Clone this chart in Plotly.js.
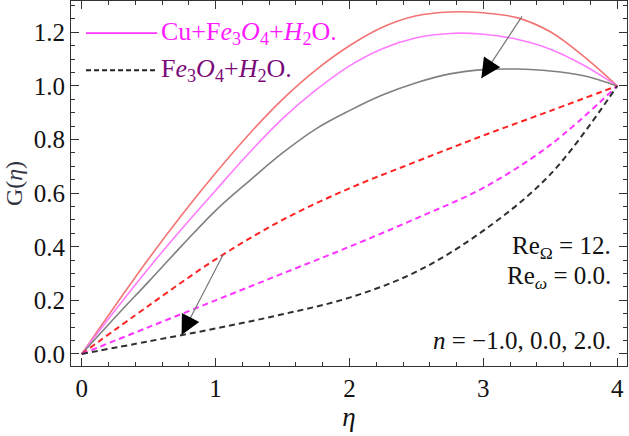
<!DOCTYPE html>
<html>
<head>
<meta charset="utf-8">
<script src="https://cdn.plot.ly/plotly-3.0.1.min.js"></script>
<style>
  html, body { margin: 0; padding: 0; background: #fff; }
  #plotlyDiv { width: 629px; height: 436px; }
</style>
</head>
<body>
<div id="plotlyDiv"></div>
<script>
// eta grids (uniform steps so the splines stay smooth)
const etaSolid = [0, 0.25, 0.5, 0.75, 1, 1.25, 1.5, 1.75, 2, 2.25, 2.5, 2.75, 3, 3.25, 3.5, 3.75, 4];
const etaDashed = [0, 0.5, 1, 1.5, 2, 2.5, 3, 3.5, 4];

// Cu+Fe3O4+H2O (solid), n = -1, 0, 2
const cuNm1 = [0, 0.18, 0.355, 0.52, 0.675, 0.82, 0.95, 1.06, 1.15, 1.22, 1.262, 1.276, 1.273, 1.255, 1.202, 1.11, 1.0];
const cuN0 = [0, 0.163, 0.32, 0.468, 0.61, 0.75, 0.878, 0.985, 1.075, 1.14, 1.18, 1.196, 1.193, 1.174, 1.137, 1.077, 1.0];
const cuN2 = [0, 0.137, 0.27, 0.405, 0.535, 0.645, 0.75, 0.84, 0.908, 0.967, 1.012, 1.045, 1.061, 1.063, 1.056, 1.038, 1.0];

// Fe3O4+H2O (dashed), n = -1, 0, 2
const feNm1 = [0, 0.18, 0.353, 0.50, 0.618, 0.718, 0.815, 0.907, 1.0];
const feN0 = [0, 0.10, 0.20, 0.30, 0.40, 0.506, 0.62, 0.78, 1.0];
const feN2 = [0, 0.047, 0.095, 0.148, 0.21, 0.307, 0.46, 0.67, 1.0];

const xTicks = [0, 1, 2, 3, 4];
const yTicks = [0, 0.2, 0.4, 0.6, 0.8, 1.0, 1.2];

// arrows: [tailX, tailY, headX, headY]
const arrowTop = [3.296, 1.265, 2.985, 1.029];
const arrowBottom = [1.062, 0.376, 0.746, 0.071];

const serif = "Liberation Serif";

function curve(x, y, color, dash, width) {
  return {
    x: x,
    y: y,
    type: 'scatter',
    mode: 'lines',
    line: { color: color, width: width, dash: dash, shape: 'spline', smoothing: 1 },
    hoverinfo: 'skip',
    showlegend: false,
  };
}

const data = [
  curve(etaSolid, cuNm1, '#f27474', 'solid', 1.6),
  curve(etaSolid, cuN0, '#ff7cff', 'solid', 1.6),
  curve(etaSolid, cuN2, '#808080', 'solid', 1.6),
  curve(etaDashed, feNm1, '#ff2222', '6px,4px', 2),
  curve(etaDashed, feN0, '#ff33ff', '6px,4px', 2),
  curve(etaDashed, feN2, '#303030', '6px,4px', 2),
];

// arrow = grey shaft + short black head
function arrow(a) {
  const t = 0.12;
  const midX = a[2] + (a[0] - a[2]) * t;
  const midY = a[3] + (a[1] - a[3]) * t;
  return [
    { x: a[2], y: a[3], ax: a[0], ay: a[1], xref: 'x', yref: 'y', axref: 'x', ayref: 'y',
      showarrow: true, arrowhead: 0, arrowwidth: 1.2, arrowcolor: '#777', text: '' },
    { x: a[2], y: a[3], ax: midX, ay: midY, xref: 'x', yref: 'y', axref: 'x', ayref: 'y',
      showarrow: true, arrowhead: 2, arrowsize: 3, arrowwidth: 1.3, arrowcolor: '#000', text: '' },
  ];
}

const annotations = [
  ...arrow(arrowTop),
  ...arrow(arrowBottom),
  { xref: 'paper', yref: 'paper', x: 0.158, y: 0.912, xanchor: 'left', yanchor: 'middle', showarrow: false,
    text: 'Cu+F<i>e</i><sub>3</sub><i>O</i><sub>4</sub>+<i>H</i><sub>2</sub>O.',
    font: { family: serif, size: 26, color: '#ff1aff' } },
  { xref: 'paper', yref: 'paper', x: 0.158, y: 0.81, xanchor: 'left', yanchor: 'middle', showarrow: false,
    text: 'F<i>e</i><sub>3</sub><i>O</i><sub>4</sub>+<i>H</i><sub>2</sub>O.',
    font: { family: serif, size: 26, color: '#7a0a7a' } },
  { xref: 'paper', yref: 'paper', x: 0.975, y: 0.325, xanchor: 'right', yanchor: 'middle', showarrow: false,
    text: 'Re<sub>Ω</sub> = 12.', font: { family: serif, size: 25, color: '#111' } },
  { xref: 'paper', yref: 'paper', x: 0.975, y: 0.243, xanchor: 'right', yanchor: 'middle', showarrow: false,
    text: 'Re<sub><i>ω</i></sub> = 0.0.', font: { family: serif, size: 25, color: '#111' } },
  { xref: 'paper', yref: 'paper', x: 0.975, y: 0.07, xanchor: 'right', yanchor: 'middle', showarrow: false,
    text: '<i>n</i> = −1.0, 0.0, 2.0.', font: { family: serif, size: 25, color: '#111' } },
];

// legend line samples
const shapes = [
  { type: 'line', xref: 'paper', yref: 'paper', x0: 0.027, x1: 0.155, y0: 0.912, y1: 0.912,
    line: { color: '#ff33ff', width: 1.6 } },
  { type: 'line', xref: 'paper', yref: 'paper', x0: 0.027, x1: 0.155, y0: 0.81, y1: 0.81,
    line: { color: '#222', width: 2, dash: '5px,3px' } },
];

const plotLayout = {
  width: 629,
  height: 436,
  margin: { l: 71, r: 2, t: 1, b: 70 },
  paper_bgcolor: '#fff',
  plot_bgcolor: '#fff',
  showlegend: false,
  font: { family: serif, size: 24, color: '#111' },
  xaxis: {
    range: [-0.08, 4.073],
    tickvals: xTicks,
    ticktext: xTicks.map(String),
    ticks: 'inside',
    ticklen: 8,
    tickcolor: '#333',
    mirror: 'allticks',
    showline: true,
    linecolor: '#333',
    linewidth: 1,
    showgrid: false,
    zeroline: false,
    minor: { dtick: 0.2, ticks: 'inside', ticklen: 4, tickcolor: '#333', showgrid: false },
    tickfont: { family: serif, size: 25, color: '#111' },
    title: { text: '<i>η</i>', font: { family: serif, size: 27, color: '#111' }, standoff: 0 },
  },
  yaxis: {
    range: [-0.045, 1.317],
    tickvals: yTicks,
    ticktext: yTicks.map(v => v.toFixed(1)),
    ticks: 'inside',
    ticklen: 8,
    tickcolor: '#333',
    mirror: 'allticks',
    showline: true,
    linecolor: '#333',
    linewidth: 1,
    showgrid: false,
    zeroline: false,
    minor: { dtick: 0.05, ticks: 'inside', ticklen: 4, tickcolor: '#333', showgrid: false },
    tickfont: { family: serif, size: 25, color: '#111' },
    title: { text: 'G(<i>η</i>)', font: { family: serif, size: 24, color: '#333344' }, standoff: 4 },
  },
  annotations: annotations,
  shapes: shapes,
};

Plotly.newPlot('plotlyDiv', data, plotLayout, { displayModeBar: false, staticPlot: true });
</script>
</body>
</html>
